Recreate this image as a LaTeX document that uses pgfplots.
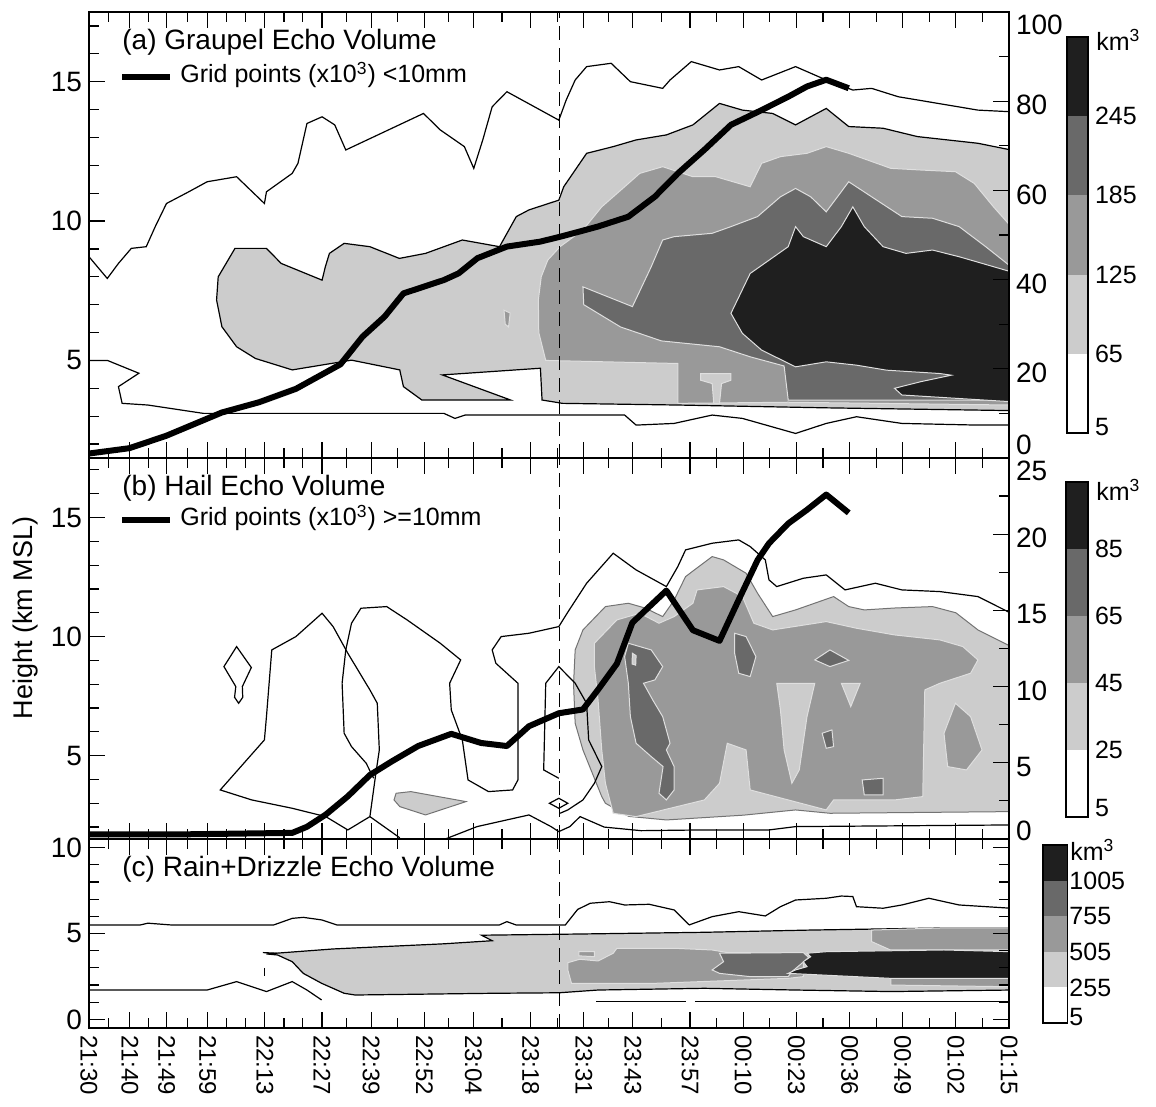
\documentclass[border=0pt]{standalone}
\usepackage{fontspec}
\setmainfont{Liberation Sans}
\usepackage{pgfplots}
\pgfplotsset{compat=1.18}
\newcommand{\fs}[1]{\fontsize{#1}{#1}\selectfont}
\definecolor{g1}{gray}{0.80}
\definecolor{g2}{gray}{0.60}
\definecolor{g3}{gray}{0.41}
\definecolor{g4}{gray}{0.12}
\pgfplotsset{
  base/.style={scale only axis, width=460pt, xmin=0, xmax=225, anchor=south west,
    xtick={0,10,19,29,43,57,69,82,94,108,121,133,147,160,173,186,199,212,225},
    minor xtick={4.8,14.5,24,33.7,38.3,47.7,52.3,63,75.5,88,101,114.5,127,140,153.5,166.5,179.5,192.5,205.5,218.5},
    tick align=inside, major tick length=8pt, minor tick length=5pt,
    tick style={line width=0.6pt, black}, axis line style={line width=0.9pt},
    tick label style={font=\fs{14}}, /pgf/number format/assume math mode=true,
    axis on top, clip=true},
  rside/.style={scale only axis, width=460pt, xmin=0, xmax=225, anchor=south west,
    hide x axis, axis y line*=right, tick align=inside, major tick length=8pt, minor tick length=5pt,
    tick style={line width=0.6pt, black}, y axis line style={line width=0.9pt},
    tick label style={font=\fs{14}}, yticklabel style={yshift=-2pt},
    /pgf/number format/assume math mode=true},
  cbar/.style={scale only axis, anchor=south west, xmin=0, xmax=1, ymin=0, ymax=5,
    xtick=\empty, ytick pos=right, major tick length=0pt, tick label style={font=\fs{12.5}},
    axis line style={line width=0.9pt}, axis on top},
  cl/.style={black, line width=0.6pt},
  inb/.style={draw=gray!25, line width=0.5pt},
  thk/.style={black, line width=3pt, line join=round},
  dsh/.style={black, line width=0.6pt, dash pattern=on 7pt off 4pt},
}
\begin{document}
\begin{tikzpicture}
\path[use as bounding box] (0,0) rectangle (578pt,553.5pt);

% ================= Panel a =================
\begin{axis}[base, at={(44.5pt,324.5pt)}, height=223pt, ymin=1.5, ymax=17.5,
  ytick={5,10,15}, minor ytick={2,3,4,6,7,8,9,11,12,13,14,16,17}, ytick pos=left, xticklabels={}]
\addplot[fill=g1, draw=black, line width=0.6pt] coordinates {(35.7,9.02) (43.4,9.02) (47,8.48) (57,7.88) (57.8,8.36) (58.8,8.84) (62.4,9.2) (68.7,9.08) (75.9,8.66) (82.3,8.84) (91.3,9.32) (100.4,9.08) (104.5,10.16) (107.6,10.4) (114.9,10.75) (116.1,11.23) (121.7,12.43) (128.2,12.67) (133.8,12.91) (141.2,13.09) (147.7,13.45) (154.2,14.22) (159.8,13.98) (167.2,13.86) (172.8,13.45) (180.3,14.04) (185.8,13.39) (194.2,13.33) (202.6,13.03) (217.4,12.79) (225.5,12.55) (225.5,3.2) (180,3.3) (144,3.4) (115.8,3.46) (110.8,3.58) (110.4,4.72) (86.4,4.48) (103.1,3.58) (81.4,3.58) (76.9,4.06) (76,4.66) (64.2,5.01) (49.7,4.66) (40.7,5.07) (36.1,5.49) (32.5,6.21) (31.2,7.17) (31.6,8.0)} -- cycle;
\addplot[fill=g2, inb] coordinates {(101.5,6.8) (103,6.7) (102.6,6.2) (101.8,6.3)} -- cycle;
\addplot[fill=g2, inb] coordinates {(112.2,8.6) (115.2,9.08) (120.8,9.68) (125.4,10.51) (131,11.23) (134.7,11.71) (140.3,11.95) (147.7,11.59) (153.3,11.59) (161.7,11.23) (164.5,12.07) (169.1,12.31) (175.6,12.43) (180.3,12.67) (185.8,12.43) (196.1,11.89) (203.5,11.83) (211.9,11.77) (216.5,11.35) (221.2,10.51) (225.5,9.8) (225.5,3.4) (171,3.5) (144,3.46) (144,4.89) (111.7,5.0) (110,6.0) (109.9,7.17) (110.6,8.0)} -- cycle;
\addplot[fill=g1, inb] coordinates {(149.6,4.53) (157,4.53) (157,4.29) (154.7,4.17) (154.2,3.46) (152.8,3.46) (152.4,4.17) (149.6,4.29)} -- cycle;
\addplot[fill=g3, inb] coordinates {(120.8,7.64) (132.9,6.93) (137.5,8.36) (140.3,9.32) (143.1,9.44) (152.4,9.56) (157,9.8) (163.5,10.16) (169.1,10.87) (172.8,11.17) (176.5,10.87) (180.3,10.33) (185.8,11.41) (191.4,10.87) (198.8,10.16) (206.3,10.1) (212.8,9.8) (219.3,9.08) (225.5,8.36) (225.5,3.58) (171,3.58) (170,4.8) (161.7,5.13) (154.2,5.49) (140,5.7) (130,6.2) (121,7.0)} -- cycle;
\addplot[fill=g4, inb] coordinates {(157,6.69) (161.7,8.12) (171,9.08) (172.8,9.8) (174.7,9.44) (180.3,9.08) (184,9.8) (186.8,10.51) (189.6,9.8) (194.2,9.08) (199.8,8.84) (206.3,8.96) (212.8,8.72) (225.5,8.18) (225.5,3.52) (198.8,3.76) (197,4.0) (203.5,4.24) (210.9,4.47) (208.1,4.53) (195.1,4.65) (187.7,4.83) (180.3,4.95) (172.8,4.77) (164.5,5.37) (159.8,5.97)} -- cycle;
\addplot[cl] coordinates {(0,8.72) (4.47,7.94) (7.2,8.48) (10.35,9.02) (14,9.08) (16.2,9.8) (18.95,10.63) (24.4,11.05) (28.9,11.41) (36.1,11.59) (42.9,10.63) (43.4,11.05) (49.7,11.71) (51.1,12.07) (53.3,13.5) (57,13.74) (60.1,13.45) (62.8,12.55) (81.8,13.86) (85.9,13.27) (91.8,12.67) (94.1,11.89) (96.3,12.91) (98.6,14.1) (102.2,14.64) (114.9,13.62) (116.7,14.34) (118.9,15.06) (121.7,15.54) (127.7,15.66) (132.4,15.0) (140.3,14.76) (142.1,15.06) (147.3,15.72) (154.2,15.42) (158.9,15.54) (164.5,15.06) (172.8,15.54) (180.3,15.06) (186.8,14.7) (191.4,14.76) (197.9,14.46) (217.4,13.98) (225.5,13.92)};
\addplot[cl] coordinates {(0,5.0) (4.5,5.0) (12.2,4.54) (7.2,4.06) (8.1,3.46) (14.4,3.4) (28,3.1) (86.8,3.1) (89.5,2.92) (92,3.04) (115.2,3.04) (131,3.04) (133.8,2.68) (143.1,2.74) (152.4,3.04) (159.8,2.92) (172.8,2.38) (180.3,2.74) (187.7,2.98) (198.8,2.74) (217.4,2.68) (225.5,2.68)};
\addplot[dsh] coordinates {(115,1.5) (115,17.5)};
\end{axis}
\begin{axis}[rside, at={(44.5pt,324.5pt)}, height=223pt, ymin=0, ymax=100,
  ytick={20,40,60,80}, minor ytick={10,30,50,70,90}, extra y ticks={0,100},
  extra y tick labels={\raisebox{3.5pt}[0pt][0pt]{0},\raisebox{-9.5pt}[0pt][0pt]{100}}]
\addplot[thk] coordinates {(0,1.0) (9.9,2.2) (18.95,5.0) (32.5,10.2) (41.6,12.5) (50.6,15.5) (61.5,21.0) (66.9,27.2) (72.3,31.7) (76.9,36.9) (86.8,39.9) (90.4,41.4) (95,44.8) (102.2,47.4) (110.3,48.5) (115.2,49.6) (120.1,50.8) (124.5,51.9) (131.9,54.1) (138.4,58.6) (144,63.8) (150.5,69.1) (157,74.7) (164.5,78.0) (171,81.0) (175.6,83.3) (180.3,84.8) (185.8,82.9)};
\end{axis}

% ================= Panel b =================
\begin{axis}[base, at={(44.5pt,134pt)}, height=190.5pt, ymin=1.5, ymax=17.5,
  ytick={5,10,15}, minor ytick={2,3,4,6,7,8,9,11,12,13,14,16,17}, ytick pos=left, xticklabels={}]
\addplot[fill=g1, draw=black!55, line width=0.5pt] coordinates {(75.1,3.42) (78.7,3.49) (92.2,3.07) (82.3,2.51) (76,2.86) (74.6,3.14)} -- cycle;
\addplot[fill=g1, draw=black!55, line width=0.5pt] coordinates {(118.9,9.44) (120.8,10.28) (126.3,11.26) (131.9,11.4) (136,11.2) (140.3,10.84) (143,11.5) (145.9,12.52) (152.4,13.36) (155.2,13.22) (160.7,12.66) (163.5,11.82) (167.2,10.84) (172.8,11.12) (182.1,11.68) (185.8,11.26) (189.6,11.12) (197,11.2) (206.3,11.26) (212,11.0) (217.4,10.28) (225.5,9.58) (225.5,2.65) (181.2,2.58) (172.8,2.72) (160,2.5) (141.2,2.3) (132,2.45) (126.3,3.0) (125.4,3.28) (120.8,5.24) (118.9,6.36) (118.5,8.0)} -- cycle;
\addplot[fill=g2, inb] coordinates {(123.6,9.72) (129.1,10.7) (134.7,10.98) (139.4,10.56) (143.1,10.84) (147.7,11.4) (148.7,11.96) (155.2,12.1) (159.8,11.68) (162.6,10.56) (167.2,10.28) (180.3,10.63) (187.7,10.35) (197,10.07) (208.1,9.86) (213.7,9.58) (217.4,9.02) (215.6,8.46) (208.1,8.04) (204.4,7.76) (203.9,3.28) (197,3.14) (182.1,3.14) (180.3,2.72) (171,3.14) (161.7,3.56) (160.7,5.24) (156.1,5.52) (154.2,3.84) (150.5,3.14) (133.8,2.44) (128.2,2.58) (126.3,3.84) (125.4,5.24) (124.5,7.34) (123.6,8.74)} -- cycle;
\addplot[fill=g1, inb] coordinates {(168.2,8.04) (177.5,8.04) (175.6,6.64) (173.7,4.4) (171.9,3.84) (170,5.24) (169.1,6.92)} -- cycle;
\addplot[fill=g1, inb] coordinates {(184,8.04) (188.6,8.04) (186.3,7.06)} -- cycle;
\addplot[fill=g2, inb] coordinates {(211.9,7.2) (215.6,6.64) (218.4,5.24) (214.6,4.4) (210,4.54) (209.1,5.94)} -- cycle;
\addplot[fill=g3, inb] coordinates {(131.9,9.72) (137.5,9.44) (140.3,8.74) (138.4,8.18) (135.6,8.04) (138,7.3) (140.3,6.64) (142.1,5.52) (141.2,5.24) (143.1,4.54) (143.1,3.56) (141.2,3.14) (139.4,3.42) (140.4,4.54) (137.5,4.96) (133.8,5.52) (132.4,6.64) (131.9,8.04) (131,9.16)} -- cycle;
\addplot[fill=g1, inb] coordinates {(132.9,9.3) (133.8,9.2) (133.7,8.8) (132.8,8.85)} -- cycle;
\addplot[fill=g3, inb] coordinates {(157.9,10.14) (160.7,10.0) (163.1,9.16) (161.7,8.32) (158.9,8.46) (157.9,9.3)} -- cycle;
\addplot[fill=g3, inb] coordinates {(177.5,9.02) (181.2,9.44) (185.8,9.0) (181.2,8.74)} -- cycle;
\addplot[fill=g3, inb] coordinates {(179.3,5.94) (181.7,6.08) (182.1,5.38) (180.3,5.31)} -- cycle;
\addplot[fill=g3, inb] coordinates {(189.1,3.98) (194.2,4.05) (194.2,3.35) (189.6,3.35)} -- cycle;
\addplot[cl] coordinates {(36.1,9.58) (39.7,8.7) (37.5,7.9) (37.6,7.45) (36.6,7.2) (35.6,7.45) (35.9,7.9) (33,8.74)} -- cycle;
\addplot[cl] coordinates {(32.1,3.56) (42.9,5.66) (43.4,6.64) (44.7,9.44) (50.6,10.0) (57,10.98) (59.7,10.42) (63.3,9.3) (68.7,7.76) (70.5,7.2) (71,5.24) (70.1,4.19) (68.7,2.44) (63.3,1.88) (57.9,2.44) (49.7,2.79) (39.8,3.14)} -- cycle;
\addplot[cl] coordinates {(68.7,2.44) (76,1.55)};
\addplot[cl] coordinates {(69.6,4.05) (67.8,4.68) (64.2,5.38) (62.4,5.94) (61.9,8.04) (62.8,9.44) (64.2,10.56) (66.5,11.19) (72.8,11.26) (77.8,10.7) (85.9,9.72) (90.9,9.02) (88.2,8.04) (88.6,6.92) (91.3,5.66) (92.7,3.98) (97.7,3.49) (103.6,3.56) (104.9,3.98) (104.9,8.04) (99.5,8.88) (98.6,9.44) (100.8,10.0) (107.6,10.14) (114.9,10.42) (117,11.0) (121.7,12.24) (128.2,13.5) (133.8,12.8) (141.2,12.1) (144,12.94) (145.9,13.64) (152.4,13.92) (158.9,14.06) (161.7,13.78) (165.4,13.22) (166.3,12.38) (168.2,12.1) (174.7,12.45) (180.3,12.59) (184.9,11.96) (192.3,12.24) (198.8,11.96) (208.1,11.89) (217.4,11.68) (225.5,10.98)};
\addplot[cl] coordinates {(114.9,4.05) (111.2,4.4) (111.7,8.04) (114.9,8.74) (118.9,8.04) (121.7,7.2) (122.2,5.66) (125.4,4.54) (123.6,3.84) (120.8,3.14) (117.1,2.72) (115.2,2.58)};
\addplot[cl] coordinates {(86.4,1.45) (94.9,2.02) (107.6,2.51) (113,2.02) (114.9,1.81) (117.6,2.02) (120.1,2.44) (126,2.0) (135,1.85) (150,1.88) (166.3,1.88) (172.8,2.02) (225.5,2.09)};
\addplot[cl] coordinates {(112.6,3.0) (114.9,3.21) (117.1,3.0) (114.9,2.79)} -- cycle;
\addplot[dsh] coordinates {(115,1.5) (115,17.5)};
\end{axis}
\begin{axis}[rside, at={(44.5pt,134pt)}, height=190.5pt, ymin=0, ymax=25,
  ytick={5,10,15,20}, minor ytick={2.5,7.5,12.5,17.5,22.5}, extra y ticks={0,25},
  extra y tick labels={\raisebox{1pt}[0pt][0pt]{0},\raisebox{-9.5pt}[0pt][0pt]{25}}]
\addplot[thk] coordinates {(0,0.3) (21.7,0.3) (49.7,0.4) (53.3,0.8) (57.9,1.6) (63.3,2.8) (68.7,4.2) (74.1,5.1) (80.5,6.1) (88.6,6.9) (95.9,6.3) (102.2,6.1) (107.6,7.4) (114.9,8.25) (120.8,8.5) (124.5,9.8) (129.1,11.5) (132.9,14.2) (141.2,16.3) (147.7,13.7) (154.2,13.0) (158.9,15.7) (163.5,18.3) (166.3,19.4) (171,20.7) (175.6,21.6) (180.3,22.6) (185.8,21.4)};
\end{axis}

% ================= Panel c =================
\begin{axis}[base, at={(44.5pt,39.5pt)}, height=94.5pt, ymin=-0.5, ymax=10.5,
  ytick={0,5,10}, minor ytick={1,2,3,4,6,7,8,9}, ytick pos=both, yticklabel pos=left,
  xticklabels={21:30,21:40,21:49,21:59,22:13,22:27,22:39,22:52,23:04,23:18,23:31,23:43,23:57,00:10,00:23,00:36,00:49,01:02,01:15},
  xticklabel style={rotate=-90, anchor=west, font=\fs{12}}]
\addplot[fill=g1, draw=black, line width=0.6pt] coordinates {(43.4,3.81) (59.7,4.1) (68.7,4.2) (86.8,4.4) (98.6,4.58) (96,4.9) (120,4.97) (150.5,5.07) (176.5,5.2) (208.1,5.32) (225.5,5.32) (225.5,1.71) (196.1,1.62) (172.8,1.71) (150.5,1.81) (124.5,1.71) (115,1.55) (98.6,1.52) (65.1,1.42) (62.4,1.52) (56.9,2.1) (52.4,2.68) (49.7,3.36) (46.1,3.75)} -- cycle;
\addplot[fill=g2, inb] coordinates {(117.1,3.3) (120,3.5) (124.5,3.4) (128.2,3.85) (129.1,4.14) (143.1,4.14) (152.4,4.04) (156.1,3.89) (174.7,3.89) (174.7,2.49) (171,2.39) (138.4,2.1) (118,2.1) (117.1,2.88)} -- cycle;
\addplot[fill=g2, inb] coordinates {(119.8,3.94) (123.6,3.94) (123.6,3.65) (119.8,3.7)} -- cycle;
\addplot[fill=g2, inb] coordinates {(191.4,5.2) (208.1,5.32) (225.5,5.32) (225.5,4.04) (196,4.04) (191.4,4.53)} -- cycle;
\addplot[fill=g2, inb] coordinates {(196.1,2.39) (225.5,2.39) (225.5,1.9) (196.1,2.0)} -- cycle;
\addplot[fill=g3, inb] coordinates {(154.2,3.85) (174.7,3.89) (176,3.6) (171.9,2.78) (171,2.49) (161.7,2.49) (154.2,2.68) (152.4,2.88) (155.2,3.36)} -- cycle;
\addplot[fill=g4, inb] coordinates {(175.6,3.85) (180.3,3.94) (209.1,4.04) (225.5,3.94) (225.5,2.39) (196.1,2.39) (171,2.68) (172.8,2.88) (175.6,3.07) (174.7,3.36) (176.5,3.65)} -- cycle;
\addplot[cl] coordinates {(0,5.5) (12.6,5.5) (14.4,5.6) (19.9,5.5) (45.2,5.5) (49.7,5.88) (52.4,5.94) (56.9,5.79) (60.6,5.5) (100.4,5.5) (102.2,5.69) (104.4,5.5) (116.5,5.5) (119.5,6.4) (122.6,6.76) (127.3,6.85) (131,6.66) (137,6.7) (143.1,6.37) (146.8,5.5) (152.4,5.98) (158.9,6.27) (165.4,6.02) (169.1,6.56) (172.8,6.95) (180.3,7.05) (184,7.18) (186.8,7.15) (187.7,6.56) (194.2,6.47) (198.8,6.66) (205.4,7.05) (212.8,6.66) (225.5,6.47)};
\addplot[cl] coordinates {(42.5,3.89) (46,3.85)};
\addplot[cl] coordinates {(0,1.71) (28.9,1.71) (36.1,2.2) (43.4,1.62) (49.7,2.2) (53.3,1.71) (56.9,1.13)};
\addplot[cl] coordinates {(124,1.03) (145.9,1.03)};
\addplot[cl] coordinates {(148.2,1.03) (225.5,1.03)};
\addplot[cl] coordinates {(42.9,3.0) (42.9,2.55)};
\addplot[dsh] coordinates {(115,-0.5) (115,10.5)};
\end{axis}

% ================= Colour bars =================
\begin{axis}[cbar, at={(533.5pt,337pt)}, width=10.5pt, height=198pt,
  ytick={0.08,1,2,3,4}, yticklabels={5,65,125,185,245}]
\addplot[fill=white, draw=none] coordinates {(0,0) (1,0) (1,1) (0,1)} -- cycle;
\addplot[fill=g1, draw=none] coordinates {(0,1) (1,1) (1,2) (0,2)} -- cycle;
\addplot[fill=g2, draw=none] coordinates {(0,2) (1,2) (1,3) (0,3)} -- cycle;
\addplot[fill=g3, draw=none] coordinates {(0,3) (1,3) (1,4) (0,4)} -- cycle;
\addplot[fill=g4, draw=none] coordinates {(0,4) (1,4) (1,5) (0,5)} -- cycle;
\end{axis}
\begin{axis}[cbar, at={(533pt,145pt)}, width=11pt, height=167.5pt,
  ytick={0.13,1,2,3,4}, yticklabels={5,25,45,65,85}]
\addplot[fill=white, draw=none] coordinates {(0,0) (1,0) (1,1) (0,1)} -- cycle;
\addplot[fill=g1, draw=none] coordinates {(0,1) (1,1) (1,2) (0,2)} -- cycle;
\addplot[fill=g2, draw=none] coordinates {(0,2) (1,2) (1,3) (0,3)} -- cycle;
\addplot[fill=g3, draw=none] coordinates {(0,3) (1,3) (1,4) (0,4)} -- cycle;
\addplot[fill=g4, draw=none] coordinates {(0,4) (1,4) (1,5) (0,5)} -- cycle;
\end{axis}
\begin{axis}[cbar, at={(521.4pt,42pt)}, width=12.3pt, height=89pt,
  ytick={0.17,1,2,3,4}, yticklabels={5,255,505,755,1005}, yticklabel style={xshift=-2.5pt}]
\addplot[fill=white, draw=none] coordinates {(0,0) (1,0) (1,1) (0,1)} -- cycle;
\addplot[fill=g1, draw=none] coordinates {(0,1) (1,1) (1,2) (0,2)} -- cycle;
\addplot[fill=g2, draw=none] coordinates {(0,2) (1,2) (1,3) (0,3)} -- cycle;
\addplot[fill=g3, draw=none] coordinates {(0,3) (1,3) (1,4) (0,4)} -- cycle;
\addplot[fill=g4, draw=none] coordinates {(0,4) (1,4) (1,5) (0,5)} -- cycle;
\end{axis}

% ================= Texts =================
\node[anchor=west, inner sep=0pt, font=\fs{12.5}] at (548pt,533.5pt) {km\textsuperscript{3}};
\node[anchor=west, inner sep=0pt, font=\fs{12.5}] at (548pt,308.5pt) {km\textsuperscript{3}};
\node[anchor=west, inner sep=0pt, font=\fs{12.5}] at (535pt,128.5pt) {km\textsuperscript{3}};

\node[anchor=west, inner sep=0pt, font=\fs{14}] at (61pt,532.5pt) {(a) Graupel Echo Volume};
\draw[line width=3pt] (61pt,515pt) -- (85pt,515pt);
\node[anchor=west, inner sep=0pt, font=\fs{12.5}] at (90pt,516pt) {Grid points (x10\textsuperscript{3}) <10mm};

\node[anchor=west, inner sep=0pt, font=\fs{14}] at (61pt,309.5pt) {(b) Hail Echo Volume};
\draw[line width=3pt] (61pt,293.5pt) -- (85pt,293.5pt);
\node[anchor=west, inner sep=0pt, font=\fs{12.5}] at (90pt,294.5pt) {Grid points (x10\textsuperscript{3}) >=10mm};

\node[anchor=west, inner sep=0pt, font=\fs{14}] at (61pt,119pt) {(c) Rain+Drizzle Echo Volume};

\node[rotate=90, font=\fs{13.5}] at (13pt,244.5pt) {Height (km MSL)};
\end{tikzpicture}
\end{document}
